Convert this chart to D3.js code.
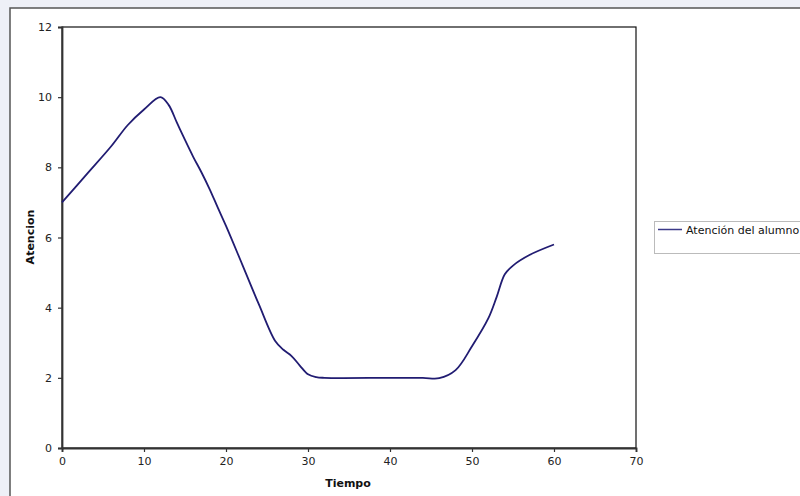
<!DOCTYPE html>
<html><head><meta charset="utf-8">
<script src="https://cdn.jsdelivr.net/npm/d3@7"></script>
<style>
html,body{margin:0;padding:0;background:#eef0f7;}
svg{display:block;font-family:"DejaVu Sans",Verdana,sans-serif;}
</style></head>
<body>
<svg id="c" width="800" height="496"></svg>
<script>
const timeValues = [0,3,6,8,10,12,13,14,15,16,17,18,19,20,22,24,26,27,28,29,30,31,32,40,44,46,48,50,52,53,54,55,57,60];
const attentionValues = [7.0,7.8,8.6,9.2,9.65,10.0,9.78,9.28,8.78,8.3,7.86,7.38,6.85,6.33,5.22,4.1,3.05,2.8,2.62,2.35,2.1,2.02,2.0,2.0,2.0,1.99,2.22,2.9,3.7,4.3,4.95,5.2,5.5,5.8];
const xTicks = [0,10,20,30,40,50,60,70];
const yTicks = [0,2,4,6,8,10,12];
const seriesName = "Atención del alumno";
const xTitle = "Tiempo";
const yTitle = "Atencion";

const svg = d3.select("#c");
svg.append("rect").attr("x",10).attr("y",8).attr("width",800).attr("height",500)
  .attr("fill","#ffffff").attr("stroke","#555").attr("stroke-width",1.5);

const x = d3.scaleLinear().domain([0,70]).range([62,636]);
const y = d3.scaleLinear().domain([0,12]).range([448,27]);

svg.append("rect").attr("x",x(0)).attr("y",y(12)).attr("width",x(70)-x(0)).attr("height",y(0)-y(12))
  .attr("fill","none").attr("stroke","#111").attr("stroke-width",1.2);

const xAxis = svg.append("g").attr("transform",`translate(0,${y(0)})`)
  .call(d3.axisBottom(x).tickValues(xTicks).tickSize(4).tickPadding(5));
const yAxis = svg.append("g").attr("transform",`translate(${x(0)},0)`)
  .call(d3.axisLeft(y).tickValues(yTicks).tickSize(4).tickPadding(6));
[xAxis,yAxis].forEach(g=>{
  g.select(".domain").attr("stroke","#333").attr("stroke-width",1.8);
  g.selectAll(".tick line").attr("stroke","#333").attr("stroke-width",1.2);
  g.selectAll(".tick text").attr("font-size",11).attr("fill","#222")
   .attr("font-family","'DejaVu Sans',Verdana,sans-serif");
});

const data = timeValues.map((t,i)=>({t, v: attentionValues[i]}));
const line = d3.line().x(d=>x(d.t)).y(d=>y(d.v)).curve(d3.curveCatmullRom.alpha(0.5));
svg.append("path").datum(data).attr("d",line).attr("fill","none")
  .attr("stroke","#211c72").attr("stroke-width",1.8);

svg.append("text").attr("x",348).attr("y",487).attr("text-anchor","middle")
  .attr("font-size",11).attr("font-weight","bold").attr("fill","#111").text(xTitle);
svg.append("text").attr("transform","translate(34,237) rotate(-90)").attr("text-anchor","middle")
  .attr("font-size",11).attr("font-weight","bold").attr("fill","#111").text(yTitle);

const lg = svg.append("g");
lg.append("rect").attr("x",654.5).attr("y",221.5).attr("width",160).attr("height",32)
  .attr("fill","#fff").attr("stroke","#bbb").attr("stroke-width",1);
lg.append("line").attr("x1",658).attr("x2",682).attr("y1",229.5).attr("y2",229.5)
  .attr("stroke","#3c3a88").attr("stroke-width",1.5);
lg.append("text").attr("x",686).attr("y",233.5).attr("font-size",11).attr("fill","#111").text(seriesName);
</script>
</body></html>
